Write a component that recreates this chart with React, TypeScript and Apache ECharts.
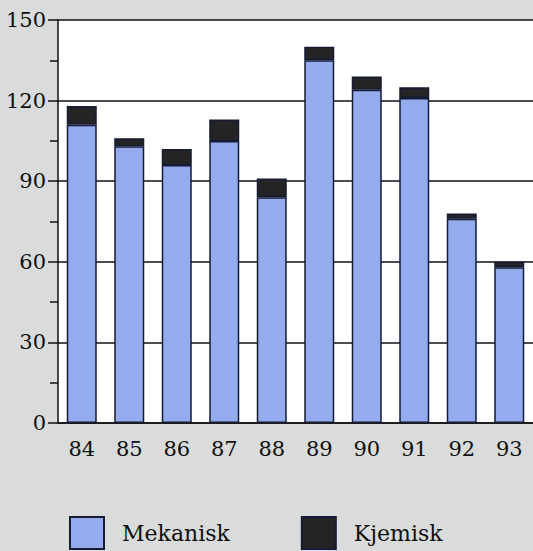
import React, { useEffect, useRef } from "react";
import * as echarts from "echarts";

const years = ["84", "85", "86", "87", "88", "89", "90", "91", "92", "93"];
const mekanisk = [111, 103, 96, 105, 84, 135, 124, 121, 76, 58];
const kjemisk = [7, 3, 6, 8, 7, 5, 5, 4, 2, 2];
const seriesNames = ["Mekanisk", "Kjemisk"];

const FONT = "DejaVu Serif";

export default function App() {
  const ref = useRef<HTMLDivElement>(null);
  useEffect(() => {
    document.body.style.margin = "0";
    const chart = echarts.init(ref.current!, null, { renderer: "svg" });
    chart.setOption({
      animation: false,
      backgroundColor: "#d9dcda",
      textStyle: { fontFamily: FONT, color: "#111" },
      grid: {
        left: 58,
        top: 20,
        width: 476,
        bottom: 128,
        show: true,
        backgroundColor: "#ffffff",
        borderWidth: 0,
      },
      legend: {
        left: 69,
        top: 516,
        itemWidth: 34,
        itemHeight: 32,
        itemGap: 71,
        icon: "rect",
        padding: 0,
        data: seriesNames,
        textStyle: {
          fontFamily: FONT,
          fontSize: 22,
          lineHeight: 28,
          color: "#111",
          padding: [5, 0, 0, 13],
        },
      },
      xAxis: {
        type: "category",
        data: years,
        axisLine: { lineStyle: { color: "#111", width: 1.5 } },
        axisTick: { length: 9, lineStyle: { color: "#111", width: 1.5 } },
        axisLabel: { fontFamily: FONT, fontSize: 21, color: "#111", margin: 15 },
      },
      yAxis: {
        type: "value",
        min: 0,
        max: 150,
        interval: 30,
        axisLine: { show: true, lineStyle: { color: "#111", width: 1.5 } },
        axisTick: { show: true, length: 10, lineStyle: { color: "#111", width: 1.5 } },
        minorTick: { show: true, splitNumber: 2, length: 8, lineStyle: { color: "#111", width: 1.5 } },
        axisLabel: { fontFamily: FONT, fontSize: 21, color: "#111", margin: 12 },
        splitLine: { show: true, lineStyle: { color: "#111", width: 1.5 } },
      },
      series: [
        {
          name: seriesNames[0],
          type: "bar",
          stack: "total",
          barWidth: 30,
          data: mekanisk,
          itemStyle: { color: "#94abee", borderColor: "#151a35", borderWidth: 1.5 },
        },
        {
          name: seriesNames[1],
          type: "bar",
          stack: "total",
          barWidth: 30,
          data: kjemisk,
          itemStyle: { color: "#242424", borderColor: "#151a35", borderWidth: 1.5 },
        },
      ],
    });
    return () => chart.dispose();
  }, []);
  return <div ref={ref} style={{ width: 533, height: 551 }} />;
}
